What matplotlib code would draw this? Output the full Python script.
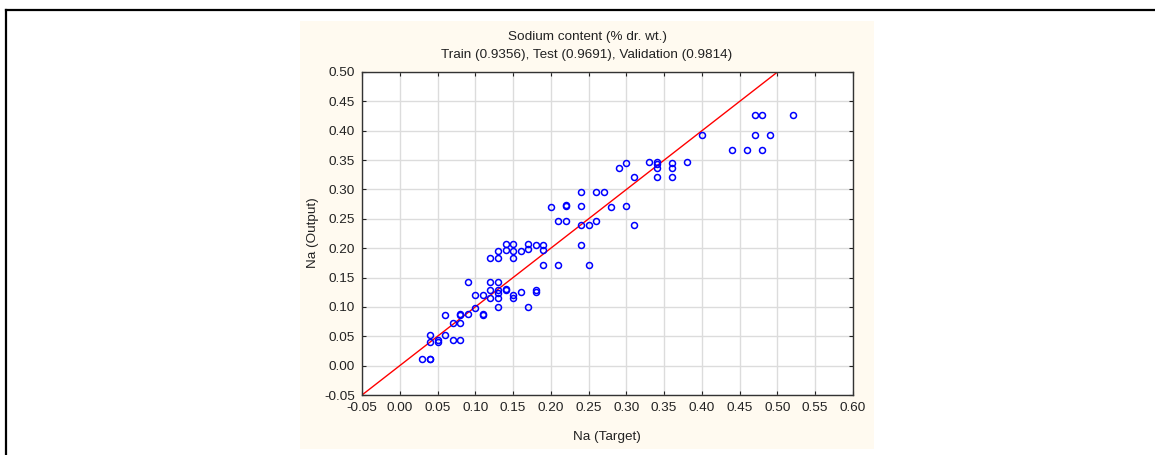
import numpy as np
import matplotlib
matplotlib.use("Agg")
import matplotlib.pyplot as plt
from matplotlib.patches import Rectangle
from matplotlib.lines import Line2D

plt.rcParams['font.family'] = ['Liberation Sans', 'DejaVu Sans']

# observed vs predicted sodium content
na_target = [0.03, 0.04, 0.04, 0.04, 0.04, 0.05, 0.05, 0.06, 0.06, 0.07,
             0.08, 0.07, 0.08, 0.08, 0.08, 0.09, 0.10, 0.11, 0.11, 0.10,
             0.11, 0.09, 0.12, 0.13, 0.12, 0.13, 0.13, 0.12, 0.13, 0.13,
             0.14, 0.14, 0.15, 0.15, 0.16, 0.17, 0.18, 0.18, 0.19, 0.12,
             0.13, 0.13, 0.14, 0.14, 0.15, 0.15, 0.15, 0.16, 0.17, 0.17,
             0.18, 0.19, 0.19, 0.21, 0.24, 0.25, 0.20, 0.21, 0.22, 0.22,
             0.22, 0.24, 0.24, 0.24, 0.25, 0.26, 0.26, 0.27, 0.28, 0.29,
             0.30, 0.30, 0.31, 0.31, 0.33, 0.34, 0.34, 0.34, 0.34, 0.36,
             0.36, 0.36, 0.38, 0.40, 0.44, 0.46, 0.47, 0.47, 0.48, 0.48,
             0.49, 0.52]
na_output = [0.012, 0.012, 0.012, 0.053, 0.041, 0.041, 0.043, 0.053, 0.086, 0.043,
             0.043, 0.073, 0.073, 0.086, 0.088, 0.088, 0.098, 0.086, 0.088, 0.120,
             0.120, 0.142, 0.142, 0.142, 0.128, 0.128, 0.124, 0.116, 0.116, 0.099,
             0.130, 0.128, 0.120, 0.116, 0.126, 0.099, 0.128, 0.126, 0.172, 0.183,
             0.183, 0.195, 0.197, 0.207, 0.207, 0.195, 0.183, 0.195, 0.207, 0.198,
             0.205, 0.205, 0.197, 0.172, 0.205, 0.172, 0.270, 0.246, 0.246, 0.271,
             0.273, 0.296, 0.272, 0.240, 0.240, 0.246, 0.296, 0.296, 0.270, 0.337,
             0.345, 0.272, 0.321, 0.240, 0.347, 0.347, 0.344, 0.336, 0.321, 0.345,
             0.336, 0.321, 0.347, 0.393, 0.367, 0.367, 0.393, 0.427, 0.427, 0.367,
             0.393, 0.427]

x_ticks = np.round(np.arange(-0.05, 0.601, 0.05), 2)
y_ticks = np.round(np.arange(-0.05, 0.501, 0.05), 2)
title1 = "Sodium content (% dr. wt.)"
title2 = "Train (0.9356), Test (0.9691), Validation (0.9814)"

W, H = 1155, 455
fs = 9.7
fig = plt.figure(figsize=(W / 100, H / 100), dpi=100, facecolor='white')

# cream panel behind the chart
fig.patches.append(Rectangle((300 / W, 1 - 449 / H), 574 / W, 428 / H,
                             transform=fig.transFigure, facecolor='#fffaf0',
                             edgecolor='none', zorder=-5))
# black frame lines (top and left)
fig.lines.append(Line2D([6 / W, 1], [1 - 10 / H, 1 - 10 / H], transform=fig.transFigure,
                        color='black', lw=1.6, zorder=-4))
fig.lines.append(Line2D([6 / W, 6 / W], [0, 1 - 10 / H], transform=fig.transFigure,
                        color='black', lw=1.6, zorder=-4))

ax = fig.add_axes([362 / W, 1 - 395 / H, 491 / W, 323 / H])
ax.set_zorder(2)
ax.set_facecolor('white')
ax.set_xlim(-0.05, 0.60)
ax.set_ylim(-0.05, 0.50)
ax.set_xticks(x_ticks)
ax.set_yticks(y_ticks)
ax.set_xticklabels([f"{v:.2f}" for v in x_ticks])
ax.set_yticklabels([f"{v:.2f}" for v in y_ticks])
ax.tick_params(direction='in', length=3, width=0.8, top=True, right=True,
               labelsize=fs, colors='#222222', pad=5)
ax.grid(True, color='#dcdcdc', lw=1)
ax.set_axisbelow(True)
for s in ax.spines.values():
    s.set_color('#333333')
    s.set_linewidth(1)

line = np.array([-0.05, 0.60])
ax.plot(line, line, color='red', lw=1, zorder=2)
ax.plot(na_target, na_output, 'o', mfc='none', mec='blue', ms=4.3, mew=1.1, zorder=3,
        clip_on=False)

fig.text(587 / W, 1 - 37 / H, title1, ha='center', va='center', fontsize=fs, color='#222222')
fig.text(587 / W, 1 - 55 / H, title2, ha='center', va='center', fontsize=fs, color='#222222')
fig.text(313 / W, 1 - 233 / H, "Na (Output)", rotation=90, ha='center', va='center',
         fontsize=fs, color='#222222')
fig.text(607 / W, 1 - 437 / H, "Na (Target)", ha='center', va='center', fontsize=fs,
         color='#222222')

fig.savefig('out.png', dpi=100, facecolor='white')
